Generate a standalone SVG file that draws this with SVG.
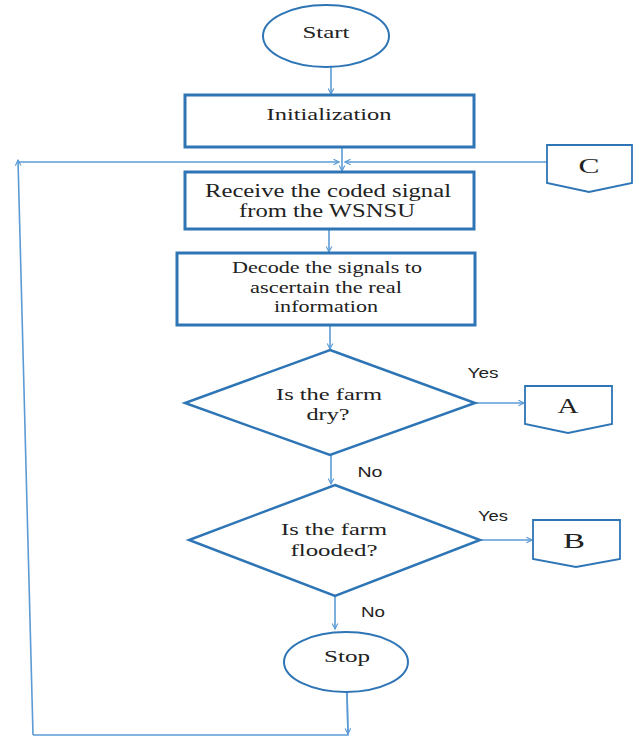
<svg xmlns="http://www.w3.org/2000/svg" width="637" height="738" viewBox="0 0 637 738">
<style>
.box{fill:#fff;stroke:#2E75B6;stroke-width:3}
.term{fill:#fff;stroke:#2E75B6;stroke-width:2}
.dec{fill:#fff;stroke:#2E75B6;stroke-width:2.5}
.off{fill:#fff;stroke:#2E75B6;stroke-width:1.8}
.t{font-family:"Liberation Serif","Times New Roman",serif;fill:#222;text-anchor:middle}
.lbl{font-family:"Liberation Sans",Arial,sans-serif;font-size:14px;fill:#222;text-anchor:middle}
.con{fill:none;stroke:#5B9BD5;stroke-width:1.6;marker-end:url(#ah)}
.line{fill:none;stroke:#5B9BD5;stroke-width:1.6}
</style>
<defs>
<marker id="ah" viewBox="0 0 10 10" refX="9" refY="5" markerWidth="7" markerHeight="7" orient="auto" markerUnits="userSpaceOnUse">
<path d="M1,1 L9,5 L1,9" fill="none" stroke="#5B9BD5" stroke-width="1.6"/>
</marker>
</defs>
<rect width="637" height="738" fill="#fff"/>
<g id="connectors">
<path class="con" d="M331,67 L331,94"/>
<path class="con" d="M342,147 L342,171"/>
<path class="line" d="M347,692 L348,735 L33,735"/>
<path class="con" d="M347,692 L348,734"/>
<path class="con" d="M33,735 L18,160"/>
<path class="con" d="M18,162 L339,162"/>
<path class="con" d="M547,162 L345,162"/>
<path class="con" d="M329,229 L329,252"/>
<path class="con" d="M330,325 L330,349"/>
<path class="con" d="M475,403 L524,403"/>
<path class="con" d="M331,455 L331,484"/>
<path class="con" d="M480,540 L532,540"/>
<path class="con" d="M335,596 L335,629"/>
</g>
<g id="start">
<ellipse class="term" cx="326" cy="36" rx="63" ry="31"/>
<text class="t" x="326" y="38" font-size="17" textLength="47" lengthAdjust="spacingAndGlyphs">Start</text>
</g>
<g id="init">
<rect class="box" x="185" y="95" width="289" height="52"/>
<text class="t" x="329" y="120" font-size="17" textLength="125" lengthAdjust="spacingAndGlyphs">Initialization</text>
</g>
<g id="receive">
<rect class="box" x="185" y="172" width="289" height="57"/>
<text class="t" x="328" y="197" font-size="18" textLength="246" lengthAdjust="spacingAndGlyphs">Receive the coded signal</text>
<text class="t" x="327" y="217" font-size="18" textLength="176" lengthAdjust="spacingAndGlyphs">from the WSNSU</text>
</g>
<g id="connC">
<path class="off" d="M547,145 L632,145 L632,183 L589,192 L547,183 Z"/>
<text class="t" x="589" y="173" font-size="21" textLength="21" lengthAdjust="spacingAndGlyphs">C</text>
</g>
<g id="decode">
<rect class="box" x="177" y="253" width="298" height="72"/>
<text class="t" x="327" y="273" font-size="16" textLength="190" lengthAdjust="spacingAndGlyphs">Decode the signals to</text>
<text class="t" x="326" y="293" font-size="16" textLength="152" lengthAdjust="spacingAndGlyphs">ascertain the real</text>
<text class="t" x="326" y="312" font-size="16" textLength="104" lengthAdjust="spacingAndGlyphs">information</text>
</g>
<g id="dry">
<path class="dec" d="M330,350 L475,403 L330,455 L185,403 Z"/>
<text class="t" x="329" y="400" font-size="17" textLength="106" lengthAdjust="spacingAndGlyphs">Is the farm</text>
<text class="t" x="328" y="420" font-size="17" textLength="43" lengthAdjust="spacingAndGlyphs">dry?</text>
</g>
<g id="yes1"><text class="lbl" x="483" y="378" textLength="31" lengthAdjust="spacingAndGlyphs">Yes</text></g>
<g id="connA">
<path class="off" d="M525,386 L612,386 L612,424 L568,433 L525,424 Z"/>
<text class="t" x="568" y="413" font-size="22" textLength="21" lengthAdjust="spacingAndGlyphs">A</text>
</g>
<g id="no1"><text class="lbl" x="370" y="477" textLength="25" lengthAdjust="spacingAndGlyphs">No</text></g>
<g id="flooded">
<path class="dec" d="M335,485 L480,540 L335,596 L189,540 Z"/>
<text class="t" x="334" y="535" font-size="17" textLength="106" lengthAdjust="spacingAndGlyphs">Is the farm</text>
<text class="t" x="334" y="556" font-size="17" textLength="87" lengthAdjust="spacingAndGlyphs">flooded?</text>
</g>
<g id="yes2"><text class="lbl" x="493" y="521" textLength="30" lengthAdjust="spacingAndGlyphs">Yes</text></g>
<g id="connB">
<path class="off" d="M533,520 L620,520 L620,559 L576,567 L533,559 Z"/>
<text class="t" x="574" y="548" font-size="22" textLength="22" lengthAdjust="spacingAndGlyphs">B</text>
</g>
<g id="no2"><text class="lbl" x="373" y="617" textLength="24" lengthAdjust="spacingAndGlyphs">No</text></g>
<g id="stop">
<ellipse class="term" cx="346" cy="662" rx="62" ry="30"/>
<text class="t" x="347" y="662" font-size="17" textLength="46" lengthAdjust="spacingAndGlyphs">Stop</text>
</g>
</svg>
